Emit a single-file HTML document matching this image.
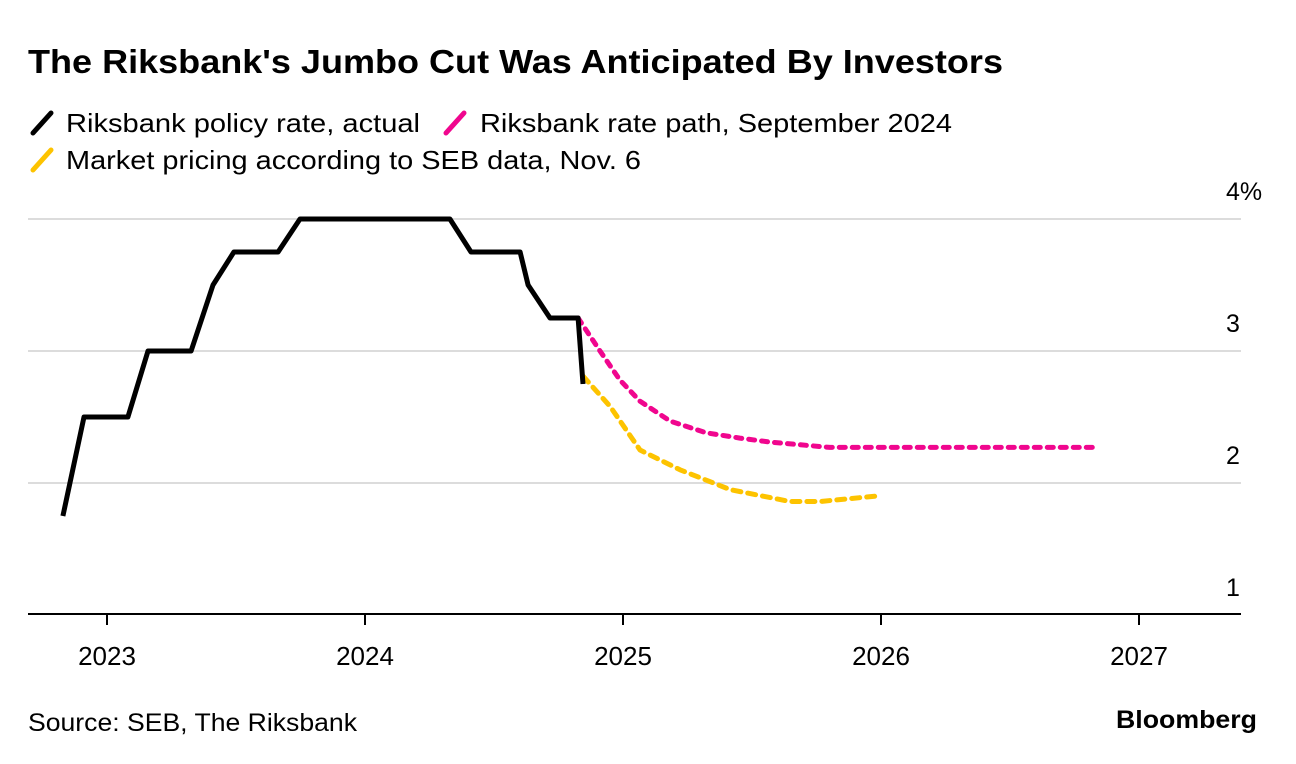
<!DOCTYPE html>
<html><head><meta charset="utf-8"><style>
html,body{margin:0;padding:0;background:#fff;}
svg{display:block;font-family:"Liberation Sans",Arial,sans-serif;}
</style></head><body>
<svg id="chart" width="1296" height="764" viewBox="0 0 1296 764" xmlns="http://www.w3.org/2000/svg">
<text x="28" y="73" font-size="33" font-weight="bold" textLength="975" lengthAdjust="spacingAndGlyphs">The Riksbank's Jumbo Cut Was Anticipated By Investors</text>
<g>
<g><line x1="33" y1="133" x2="51" y2="113" stroke="#000" stroke-width="5" stroke-linecap="round"/><text x="66" y="132" font-size="26" textLength="354" lengthAdjust="spacingAndGlyphs">Riksbank policy rate, actual</text></g>
<g><line x1="446" y1="133" x2="464" y2="113" stroke="#f0068e" stroke-width="5" stroke-linecap="round"/><text x="480" y="132" font-size="26" textLength="472" lengthAdjust="spacingAndGlyphs">Riksbank rate path, September 2024</text></g>
<g><line x1="33" y1="170" x2="51" y2="150" stroke="#fdc300" stroke-width="5" stroke-linecap="round"/><text x="66" y="169" font-size="26" textLength="575" lengthAdjust="spacingAndGlyphs">Market pricing according to SEB data, Nov. 6</text></g>
</g>
<g id="grid"></g>
<g id="yaxis"></g>
<g id="xaxis"></g>
<g id="series"></g>
<text x="28" y="731" font-size="25" textLength="329" lengthAdjust="spacingAndGlyphs">Source: SEB, The Riksbank</text>
<text x="1257" y="728" font-size="25" font-weight="bold" text-anchor="end" textLength="141" lengthAdjust="spacingAndGlyphs">Bloomberg</text>
</svg>
<script>
const yTicks=[1,2,3,4];
const yTickLabels=["1","2","3","4%"];
const xTicks=[2023,2024,2025,2026,2027];
const actualX=[2022.829,2022.911,2023.081,2023.159,2023.326,2023.411,2023.492,2023.663,2023.748,2024.329,2024.411,2024.601,2024.632,2024.717,2024.826,2024.845];
const actualY=[1.75,2.5,2.5,3.0,3.0,3.5,3.75,3.75,4.0,4.0,3.75,3.75,3.5,3.25,3.25,2.75];
const pathX=[2024.826,2024.911,2024.988,2025.066,2025.182,2025.322,2025.453,2025.570,2025.802,2026.841];
const pathY=[3.25,3.0,2.78,2.62,2.47,2.38,2.34,2.31,2.27,2.27];
const mktX=[2024.845,2024.950,2025.066,2025.221,2025.415,2025.647,2025.764,2025.977];
const mktY=[2.81,2.58,2.25,2.1,1.95,1.86,1.86,1.9];
const NS="http://www.w3.org/2000/svg";
function xs(v){return 107+(v-2023)*258;}
function ys(v){return 615-(v-1)*132;}
function mk(tag,attrs,parent){const e=document.createElementNS(NS,tag);for(const k in attrs)e.setAttribute(k,attrs[k]);parent.appendChild(e);return e;}
const grid=document.getElementById('grid'),ya=document.getElementById('yaxis'),xa=document.getElementById('xaxis'),ser=document.getElementById('series');
yTicks.forEach((t,i)=>{
  if(t>1){const l=mk('line',{x1:28,x2:1241,y1:ys(t),y2:ys(t),stroke:'#dcdcdc','stroke-width':2},grid);
  
  }
  const tx=mk('text',{x:1226,y:ys(t)-19,'font-size':25},ya);
  tx.textContent=yTickLabels[i];
  
  
});
const ax=mk('line',{x1:28,x2:1241,y1:614,y2:614,stroke:'#000','stroke-width':2},xa);


xTicks.forEach(t=>{
  const tk=mk('line',{x1:xs(t),x2:xs(t),y1:614,y2:625,stroke:'#000','stroke-width':2},xa);
  
  
  const tx=mk('text',{x:xs(t),y:665,'font-size':26,'text-anchor':'middle'},xa);
  tx.textContent=String(t);
  
  
});
function pts(X,Y){return X.map((x,i)=>xs(x).toFixed(1)+','+ys(Y[i]).toFixed(1)).join(' ');}
const p1=mk('polyline',{points:pts(pathX,pathY),fill:'none',stroke:'#f0068e','stroke-width':5,'stroke-dasharray':'6 7','stroke-linecap':'round','stroke-linejoin':'round'},ser);


const p2=mk('polyline',{points:pts(mktX,mktY),fill:'none',stroke:'#fdc300','stroke-width':5,'stroke-dasharray':'8 7','stroke-linecap':'round','stroke-linejoin':'round'},ser);


const p0=mk('polyline',{points:pts(actualX,actualY),fill:'none',stroke:'#000','stroke-width':5,'stroke-linejoin':'round'},ser);


</script>
</body></html>
